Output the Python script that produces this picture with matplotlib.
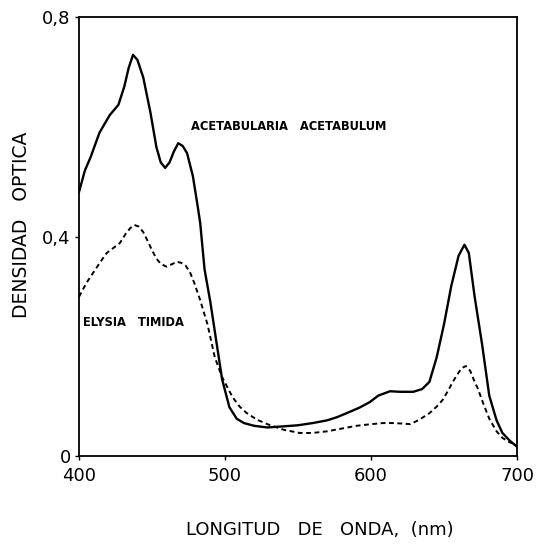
import matplotlib
matplotlib.use("Agg")
import matplotlib.pyplot as plt

# absorption spectra (wavelength in nm, optical density)
wl_acetabularia = [400, 404, 408, 414, 421, 427, 431, 434, 437, 440, 444, 449, 453,
                   456, 459, 462, 465, 468, 471, 474, 478, 481, 483, 486, 490, 494,
                   498, 503, 508, 513, 520, 529, 540, 550, 560, 570, 577, 585, 592,
                   599, 605, 613, 620, 629, 635, 640, 645, 650, 655, 660, 664, 667,
                   671, 676, 681, 686, 690, 695, 700]
od_acetabularia = [0.481, 0.520, 0.545, 0.589, 0.621, 0.640, 0.673, 0.707, 0.731, 0.722,
                   0.690, 0.625, 0.563, 0.535, 0.525, 0.535, 0.555, 0.570, 0.565, 0.552,
                   0.510, 0.460, 0.425, 0.340, 0.280, 0.210, 0.140, 0.089, 0.068, 0.060,
                   0.055, 0.052, 0.054, 0.056, 0.060, 0.065, 0.071, 0.080, 0.088, 0.098,
                   0.110, 0.118, 0.117, 0.117, 0.122, 0.135, 0.180, 0.240, 0.310, 0.365,
                   0.385, 0.370, 0.290, 0.205, 0.110, 0.065, 0.042, 0.028, 0.017]

wl_elysia = [400, 405, 410, 415, 419, 424, 428, 432, 435, 438, 441, 444, 447, 450,
             453, 456, 460, 464, 467, 470, 473, 476, 479, 483, 488, 493, 498, 505,
             510, 515, 522, 530, 540, 551, 560, 570, 580, 590, 600, 608, 615, 622,
             627, 633, 640, 645, 649, 653, 656, 659, 662, 665, 668, 671, 673, 677,
             681, 686, 690, 695, 700]
od_elysia = [0.290, 0.315, 0.335, 0.355, 0.370, 0.380, 0.388, 0.405, 0.415, 0.421,
             0.418, 0.408, 0.392, 0.375, 0.360, 0.350, 0.345, 0.350, 0.354, 0.352,
             0.347, 0.335, 0.315, 0.284, 0.240, 0.180, 0.144, 0.108, 0.090, 0.078,
             0.066, 0.057, 0.048, 0.042, 0.042, 0.045, 0.050, 0.055, 0.058, 0.060,
             0.060, 0.059, 0.058, 0.066, 0.078, 0.090, 0.102, 0.120, 0.135, 0.148,
             0.160, 0.164, 0.155, 0.135, 0.124, 0.095, 0.068, 0.045, 0.033, 0.025,
             0.020]

x_ticks = [400, 500, 600, 700]
y_ticks = [0, 0.4, 0.8]
y_ticklabels = ["0", "0,4", "0,8"]

fig = plt.figure(figsize=(5.39, 5.46), dpi=100)
ax = fig.add_axes([79 / 539, 90 / 546, 438 / 539, 439 / 546])

ax.plot(wl_acetabularia, od_acetabularia, color="black", lw=1.7,
        solid_joinstyle="round")
ax.plot(wl_elysia, od_elysia, color="black", lw=1.4, linestyle=(0, (2.5, 1.8)))

ax.set_xlim(400, 700)
ax.set_ylim(0, 0.8)
ax.set_xticks(x_ticks)
ax.set_yticks(y_ticks)
ax.set_yticklabels(y_ticklabels)
ax.tick_params(direction="out", length=3, width=1, labelsize=13, pad=3)
ax.tick_params(axis="x", pad=5)
for s in ax.spines.values():
    s.set_linewidth(1.3)

# curve labels
ax.text(477, 0.601, "ACETABULARIA   ACETABULUM", fontsize=8.3, fontweight="bold",
        va="center", ha="left")
ax.text(403, 0.244, "ELYSIA   TIMIDA", fontsize=8.3, fontweight="bold",
        va="center", ha="left")

fig.text(22 / 539, 1 - 225 / 546, "DENSIDAD   OPTICA", rotation=90, fontsize=13.5,
         ha="center", va="center")
fig.text(320 / 539, 1 - 530 / 546, "LONGITUD   DE   ONDA,  (nm)", fontsize=13,
         ha="center", va="center")

fig.savefig("out.png", dpi=100)
